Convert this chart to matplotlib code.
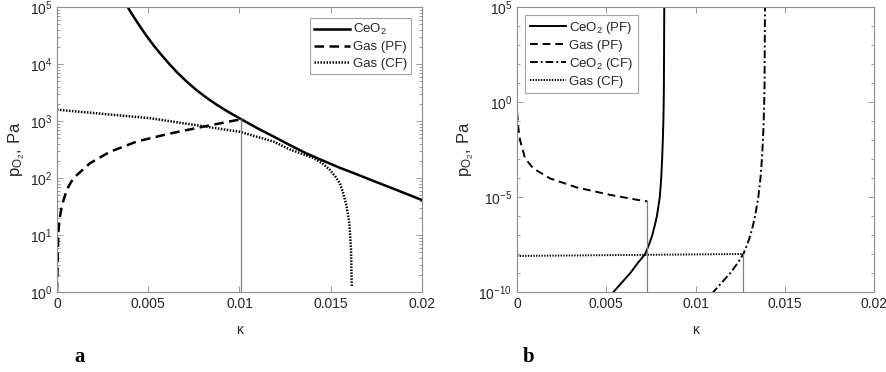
import matplotlib
matplotlib.use("Agg")
import matplotlib.pyplot as plt
import numpy as np
from matplotlib.ticker import FixedLocator, FixedFormatter, LogLocator, NullFormatter

plt.rcParams['font.family'] = ['Liberation Sans', 'DejaVu Sans']
plt.rcParams['mathtext.fontset'] = 'custom'
plt.rcParams['mathtext.rm'] = 'Liberation Sans'
plt.rcParams['mathtext.it'] = 'Liberation Sans'
plt.rcParams['mathtext.default'] = 'regular'

# ---------------- panel a ----------------
a_ceo2_k = [0.00364, 0.00387, 0.00418, 0.00455, 0.00491, 0.00528, 0.00564, 0.0061, 0.00656,
            0.00711, 0.00765, 0.0082, 0.00875, 0.0093, 0.00975, 0.0101, 0.0110,
            0.01185, 0.0128, 0.01368, 0.0146, 0.0155, 0.0164, 0.01733, 0.0187, 0.0200]
a_ceo2_p = [1.34e5, 1.0e5, 6.9e4, 4.55e4, 3.1e4, 2.15e4, 1.55e4, 1.045e4, 7.24e3,
            4.9e3, 3.47e3, 2.55e3, 1.93e3, 1.5e3, 1.24e3, 1.07e3, 741,
            537, 372, 269, 200, 151, 117, 89, 60, 41]

a_gaspf_k = [0.0, 0.00004, 0.00007, 0.00015, 0.00026, 0.00053, 0.0008, 0.00108, 0.00181,
             0.0029, 0.00437, 0.00619, 0.00801, 0.00975, 0.0101]
a_gaspf_p = [1.0, 4.0, 10.7, 20, 32, 62, 88, 112, 182, 288, 437, 603, 794, 1023, 1070]

a_gascf_k = [0.0, 0.0051, 0.01003, 0.01185, 0.01277, 0.01405, 0.01455, 0.01496, 0.01525,
             0.0155, 0.0157, 0.01587, 0.01602, 0.01611, 0.01615]
a_gascf_p = [1580, 1120, 645, 437, 316, 224, 180, 138, 106, 81, 52, 32, 16, 5.5, 1.27]

a_vline_k = 0.0101
a_vline_p = [1.0, 1070]

# ---------------- panel b ----------------
b_ceo2pf_k = [0.0053, 0.0054, 0.00635, 0.00675, 0.00718, 0.0074, 0.00758, 0.00772, 0.00784,
              0.0080, 0.00808, 0.00813, 0.00817, 0.0082, 0.00822, 0.00823, 0.00824, 0.00825]
b_ceo2pf_p = [7.9e-11, 1e-10, 1e-9, 3.2e-9, 1e-8, 3.2e-8, 1e-7, 3.2e-7, 1e-6,
              1e-5, 1e-4, 1e-3, 1e-2, 1e-1, 1.0, 10.0, 1e3, 1e5]

b_gaspf_k = [0.0, 0.00002, 0.00008, 0.00017, 0.00045, 0.00091, 0.00185, 0.00334, 0.00521,
             0.0068, 0.0073]
b_gaspf_p = [0.28, 0.21, 4.0e-2, 1.0e-2, 1.1e-3, 3.2e-4, 9.5e-5, 3.2e-5, 1.3e-5, 6.9e-6, 5.9e-6]

b_ceo2cf_k = [0.01095, 0.0110, 0.01195, 0.01235, 0.01268, 0.0129, 0.01308, 0.01322, 0.01334,
              0.01352, 0.01364, 0.01372, 0.01378, 0.01382, 0.01385, 0.01387, 0.01388, 0.01389]
b_ceo2cf_p = [7.9e-11, 1e-10, 1e-9, 3.2e-9, 1e-8, 3.2e-8, 1e-7, 3.2e-7, 1e-6,
              1e-5, 1e-4, 1e-3, 1e-2, 1e-1, 1.0, 10.0, 1e3, 1e5]

b_gascf_k = [0.0, 0.01268]
b_gascf_p = [7.9e-9, 1.0e-8]

b_vline1_k = 0.0073
b_vline1_p = [1e-10, 5.9e-6]
b_vline2_k = 0.01268
b_vline2_p = [1e-10, 1.0e-8]

x_ticks = [0, 0.005, 0.01, 0.015, 0.02]
x_ticklabels = ['0', '0.005', '0.01', '0.015', '0.02']

AX_COL = '#8c8c8c'
TXT_COL = '#262626'
FS = 10
LFS = 9.5

fig = plt.figure(figsize=(8.86, 3.72), dpi=100)
W, H = 886, 372
axA = fig.add_axes([57 / W, 1 - 292 / H, 365 / W, 285 / H])
axB = fig.add_axes([517 / W, 1 - 292 / H, 357 / W, 285 / H])


def style(ax):
    for s in ax.spines.values():
        s.set_color(AX_COL)
        s.set_linewidth(0.8)
    ax.tick_params(which='both', direction='in', top=True, right=True, color=AX_COL,
                   labelcolor=TXT_COL, labelsize=FS, width=0.6)
    ax.tick_params(which='major', length=4)
    ax.tick_params(which='minor', length=2)
    ax.xaxis.set_major_locator(FixedLocator(x_ticks))
    ax.xaxis.set_major_formatter(FixedFormatter(x_ticklabels))
    ax.set_xlim(0, 0.02)
    ax.set_xlabel('κ', fontsize=FS, color=TXT_COL, labelpad=9)
    ax.set_ylabel('p$_{O_2}$, Pa', fontsize=12, color=TXT_COL, labelpad=2)


# Panel a
axA.set_yscale('log')
axA.plot(a_ceo2_k, a_ceo2_p, color='black', lw=1.8, ls='-', label='CeO$_2$')
axA.plot(a_gaspf_k, a_gaspf_p, color='black', lw=1.8, ls=(0, (3.8, 2.2)), label='Gas (PF)')
axA.plot(a_gascf_k, a_gascf_p, color='black', lw=1.8, ls=(0, (0.6, 0.6)), label='Gas (CF)')
axA.plot([a_vline_k, a_vline_k], a_vline_p, color='#808080', lw=0.9)
axA.set_ylim(1, 1e5)
axA.yaxis.set_major_locator(LogLocator(base=10, numticks=10))
axA.yaxis.set_minor_locator(LogLocator(base=10, subs=np.arange(2, 10), numticks=20))
axA.yaxis.set_minor_formatter(NullFormatter())
style(axA)
legA = axA.legend(loc='upper right', fontsize=LFS, frameon=True, fancybox=False,
                  edgecolor=AX_COL, handlelength=2.7, handletextpad=0.2, borderpad=0.35,
                  labelspacing=0.3, borderaxespad=0.8)
legA.get_frame().set_linewidth(0.8)
for t in legA.get_texts():
    t.set_color(TXT_COL)

# Panel b
axB.set_yscale('log')
axB.plot(b_ceo2pf_k, b_ceo2pf_p, color='black', lw=1.4, ls='-', label='CeO$_2$ (PF)')
axB.plot(b_gaspf_k, b_gaspf_p, color='black', lw=1.4, ls=(0, (4, 2.5)), label='Gas (PF)')
axB.plot(b_ceo2cf_k, b_ceo2cf_p, color='black', lw=1.4, ls=(0, (4, 1.5, 1, 1.5)), label='CeO$_2$ (CF)')
axB.plot(b_gascf_k, b_gascf_p, color='black', lw=1.4, ls=(0, (0.7, 0.7)), label='Gas (CF)')
axB.plot([b_vline1_k, b_vline1_k], b_vline1_p, color='#808080', lw=0.9)
axB.plot([b_vline2_k, b_vline2_k], b_vline2_p, color='#808080', lw=0.9)
axB.set_ylim(1e-10, 1e5)
axB.yaxis.set_major_locator(FixedLocator([1e-10, 1e-5, 1e0, 1e5]))
axB.yaxis.set_minor_locator(FixedLocator([10.0 ** e for e in range(-10, 6)]))
axB.yaxis.set_minor_formatter(NullFormatter())
style(axB)
legB = axB.legend(loc='upper left', fontsize=LFS, frameon=True, fancybox=False,
                  edgecolor=AX_COL, handlelength=2.8, handletextpad=0.2, borderpad=0.35,
                  labelspacing=0.3, borderaxespad=0.6)
legB.get_frame().set_linewidth(0.8)
for t in legB.get_texts():
    t.set_color(TXT_COL)

fig.text(80 / W, 1 - 357 / H, 'a', fontsize=15, fontweight='bold', family='Liberation Serif',
         ha='center', va='center')
fig.text(529 / W, 1 - 357 / H, 'b', fontsize=15, fontweight='bold', family='Liberation Serif',
         ha='center', va='center')

fig.savefig('out.png', dpi=100)
